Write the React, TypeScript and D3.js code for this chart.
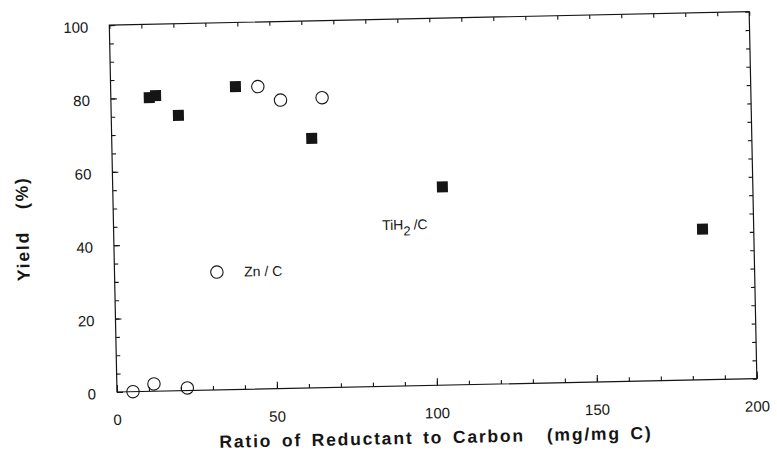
import React, { useEffect, useRef } from 'react';
import * as d3 from 'd3';

// TiH2 / C (filled squares)
const tihRatio = [12, 14, 21, 39, 62.5, 103, 184];
const tihYield = [80, 80.5, 75, 82.5, 68, 54, 41];

// Zn / C (open circles)
const znRatio = [5, 11.6, 22, 46, 53, 66];
const znYield = [0, 2, 0.7, 82.4, 78.6, 79];

const xTickLabels = [0, 50, 100, 150, 200];
const yTickLabels = [0, 20, 40, 60, 80, 100];

const FONT = "'Liberation Sans', Arial, Helvetica, sans-serif";

export default function App() {
  const svgRef = useRef<SVGSVGElement>(null);

  useEffect(() => {
    if (!svgRef.current) return;
    const svg = d3.select(svgRef.current);
    svg.selectAll('*').remove();

    const width = 777;
    const height = 454;
    const origin = { x: 117, y: 392 };
    const pw = 640;
    const ph = 367;
    const ink = '#151515';

    svg.attr('width', width).attr('height', height);
    svg.append('rect').attr('width', width).attr('height', height).attr('fill', '#fff');

    const x = d3.scaleLinear().domain([0, 200]).range([0, pw]);
    const y = d3.scaleLinear().domain([0, 100]).range([ph, 0]);

    // the scanned figure is slightly tilted
    const g = svg.append('g')
      .attr('transform', `translate(${origin.x},${origin.y}) rotate(-1.2) translate(0,${-ph})`);

    // frame
    g.append('rect')
      .attr('width', pw)
      .attr('height', ph)
      .attr('fill', 'none')
      .attr('stroke', ink)
      .attr('stroke-width', 1.2);

    const minorX = d3.range(0, 201, 10);
    const minorY = d3.range(0, 101, 5);

    const styleAxis = (sel: d3.Selection<SVGGElement, unknown, null, undefined>) => {
      sel.select('.domain').remove();
      sel.selectAll('.tick line').attr('stroke', ink).attr('stroke-width', 1.1);
      sel.selectAll('.tick text').remove();
    };

    // bottom ticks
    g.append('g').attr('transform', `translate(0,${ph})`)
      .call(d3.axisBottom(x).tickValues(minorX).tickSize(-4)).call(styleAxis);
    g.append('g').attr('transform', `translate(0,${ph})`)
      .call(d3.axisBottom(x).tickValues(xTickLabels).tickSize(-7)).call(styleAxis);
    // top ticks
    g.append('g')
      .call(d3.axisTop(x).tickValues(minorX).tickSize(-4)).call(styleAxis);
    // left ticks
    g.append('g')
      .call(d3.axisLeft(y).tickValues(minorY).tickSize(-4)).call(styleAxis);
    g.append('g')
      .call(d3.axisLeft(y).tickValues(yTickLabels).tickSize(-6)).call(styleAxis);
    // right ticks
    g.append('g').attr('transform', `translate(${pw},0)`)
      .call(d3.axisRight(y).tickValues(minorY).tickSize(-4)).call(styleAxis);

    // tick labels
    g.selectAll('text.xl')
      .data(xTickLabels)
      .join('text')
      .attr('class', 'xl')
      .attr('x', d => x(d))
      .attr('y', ph + 33)
      .attr('text-anchor', 'middle')
      .style('font-family', FONT)
      .style('font-size', '15px')
      .attr('fill', ink)
      .text(d => d);

    g.selectAll('text.yl')
      .data(yTickLabels)
      .join('text')
      .attr('class', 'yl')
      .attr('x', -21)
      .attr('y', d => y(d) + 7)
      .attr('text-anchor', 'end')
      .style('font-family', FONT)
      .style('font-size', '15px')
      .attr('fill', ink)
      .text(d => d);

    // axis titles
    const xt = g.append('text')
      .attr('x', 318)
      .attr('y', ph + 58)
      .attr('text-anchor', 'middle')
      .style('font-family', FONT)
      .style('font-size', '17.5px')
      .style('font-weight', 'bold')
      .style('letter-spacing', '1.8px')
      .style('word-spacing', '3px')
      .attr('fill', ink);
    xt.append('tspan').text('Ratio of Reductant to Carbon');
    xt.append('tspan').attr('dx', 22).text('(mg/mg C)');

    const yt = g.append('text')
      .attr('transform', `translate(-85,${y(45)}) rotate(-90)`)
      .attr('text-anchor', 'middle')
      .style('font-family', FONT)
      .style('font-size', '17.5px')
      .style('font-weight', 'bold')
      .style('letter-spacing', '1.8px')
      .attr('fill', ink);
    yt.append('tspan').text('Yield');
    yt.append('tspan').attr('dx', 22).text('(%)');

    // TiH2 squares
    const sq = 11;
    g.selectAll('rect.tih')
      .data(tihRatio.map((r, i) => [r, tihYield[i]]))
      .join('rect')
      .attr('class', 'tih')
      .attr('x', d => x(d[0]) - sq / 2)
      .attr('y', d => y(d[1]) - sq / 2)
      .attr('width', sq)
      .attr('height', sq)
      .attr('fill', ink);

    // Zn circles
    g.selectAll('circle.zn')
      .data(znRatio.map((r, i) => [r, znYield[i]]))
      .join('circle')
      .attr('class', 'zn')
      .attr('cx', d => x(d[0]))
      .attr('cy', d => y(d[1]))
      .attr('r', 6.2)
      .attr('fill', 'none')
      .attr('stroke', ink)
      .attr('stroke-width', 1.1);

    // in-plot labels
    g.append('circle')
      .attr('cx', x(32))
      .attr('cy', y(32.1))
      .attr('r', 6.2)
      .attr('fill', 'none')
      .attr('stroke', ink)
      .attr('stroke-width', 1.1);

    g.append('text')
      .attr('x', x(40.5))
      .attr('y', y(32.1) + 5)
      .style('font-family', FONT)
      .style('font-size', '14px')
      .attr('fill', ink)
      .text('Zn / C');

    const tl = g.append('text')
      .attr('x', x(83.9))
      .attr('y', y(42.6))
      .style('font-family', FONT)
      .style('font-size', '14px')
      .attr('fill', ink);
    tl.append('tspan').text('TiH');
    tl.append('tspan').attr('dy', 6).style('font-size', '13px').text('2');
    tl.append('tspan').attr('dy', -6).attr('dx', 3).text('/C');
  }, []);

  return (
    <svg
      ref={svgRef}
      style={{ position: 'absolute', left: 0, top: 0, display: 'block' }}
    ></svg>
  );
}
